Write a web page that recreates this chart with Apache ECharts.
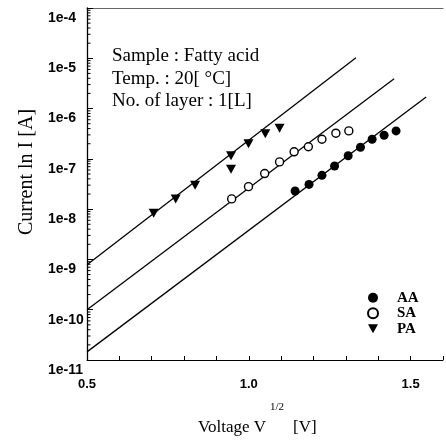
<!DOCTYPE html>
<html><head><meta charset="utf-8">
<script src="https://cdn.jsdelivr.net/npm/echarts@6/dist/echarts.min.js"></script>
<style>html,body{margin:0;padding:0;background:#fff}#c{width:446px;height:445px}</style>
</head><body><div id="c"></div>
<script>
// Data (x = V^1/2 [V], y = current [A])
const xAA = [1.143, 1.186, 1.226, 1.265, 1.307, 1.345, 1.381, 1.418, 1.455];
const yAA = [2.3e-8, 3.1e-8, 4.7e-8, 7.2e-8, 1.15e-7, 1.7e-7, 2.45e-7, 2.95e-7, 3.6e-7];
const xSA = [0.947, 0.999, 1.049, 1.095, 1.140, 1.184, 1.226, 1.269, 1.309];
const ySA = [1.6e-8, 2.8e-8, 5.1e-8, 8.7e-8, 1.38e-7, 1.74e-7, 2.45e-7, 3.24e-7, 3.6e-7];
const xPA = [0.706, 0.774, 0.834, 0.945, 0.945, 0.999, 1.051, 1.095];
const yPA = [8.3e-9, 1.6e-8, 3.0e-8, 1.15e-7, 6.2e-8, 2.0e-7, 3.16e-7, 4.07e-7];
// fitted straight lines (end points)
const fitAAx = [0.5, 1.548], fitAAy = [1.45e-11, 1.7e-6];
const fitSAx = [0.5, 1.449], fitSAy = [1.0e-10, 3.9e-6];
const fitPAx = [0.5, 1.331], fitPAy = [7.8e-10, 1.02e-5];
const seriesNames = ['AA', 'SA', 'PA'];
const xLabels = [0.5, 1.0, 1.5];
const yMin = 1e-11, yMax = 1e-4;
// minor log ticks positions (2..9 x each decade)
const minorMultipliers = [2, 3, 4, 5, 6, 7, 8, 9];
const decades = [-11, -10, -9, -8, -7, -6, -5];

const pairs = (xs, ys) => xs.map((x, i) => [x, ys[i]]);
const minorTicks = [];
decades.forEach(d => minorMultipliers.forEach(k => minorTicks.push([0.5, k * Math.pow(10, d)])));

const chart = echarts.init(document.getElementById('c'), null, {renderer: 'canvas'});
const serif = '"Liberation Serif", "Times New Roman", serif';
const sans = '"Liberation Sans", Arial, sans-serif';
const lineStyle = {color: '#000', width: 1.3};

function txt(x, y, text, size, align, extra) {
  return Object.assign({
    type: 'text', x: x, y: y, silent: true,
    style: {text: text, font: size + 'px ' + serif, fill: '#000',
      align: align, textAlign: align, verticalAlign: 'middle', textVerticalAlign: 'middle'}
  }, extra || {});
}

chart.setOption({
  animation: false,
  backgroundColor: '#fff',
  grid: {left: 87, right: -4, top: 8, bottom: 85},
  xAxis: [{
    type: 'value', min: 0.5, max: 1.6, interval: 0.1,
    axisLine: {onZero: false, lineStyle: {color: '#000', width: 1}},
    axisTick: {inside: true, length: 4, lineStyle: {color: '#000'}},
    splitLine: {show: false},
    axisLabel: {
      margin: 18, fontSize: 13, lineHeight: 13, fontWeight: 'bold', fontFamily: sans, color: '#000',
      formatter: v => xLabels.some(l => Math.abs(l - v) < 1e-6) ? v.toFixed(1) : ''
    }
  }, {
    type: 'value', position: 'top', min: 0.5, max: 1.6,
    axisLine: {onZero: false, lineStyle: {color: '#666', width: 1.2}},
    axisTick: {show: false}, axisLabel: {show: false}, splitLine: {show: false}
  }],
  yAxis: {
    type: 'log', logBase: 10, min: yMin, max: yMax, splitNumber: 7,
    axisLine: {onZero: false, lineStyle: {color: '#000', width: 1.3}},
    axisTick: {inside: true, length: 6, lineStyle: {color: '#000'}},
    splitLine: {show: false},
    axisLabel: {
      align: 'left', margin: 39, verticalAlign: 'top', lineHeight: 14, padding: [3, 0, 0, 0],
      fontSize: 14, fontWeight: 'bold', fontFamily: sans, color: '#000',
      formatter: v => '1e' + Math.round(Math.log10(v))
    }
  },
  legend: {
    orient: 'vertical', left: 362, top: 285, itemWidth: 10, itemHeight: 10, itemGap: 0,
    selectedMode: false, data: seriesNames,
    textStyle: {fontFamily: serif, fontWeight: 'bold', fontSize: 15, lineHeight: 15.5,
      color: '#000', padding: [0, 0, 0, 14]}
  },
  series: [
    {name: 'fitAA', type: 'line', data: pairs(fitAAx, fitAAy), symbol: 'none', lineStyle: lineStyle, silent: true, z: 1},
    {name: 'fitSA', type: 'line', data: pairs(fitSAx, fitSAy), symbol: 'none', lineStyle: lineStyle, silent: true, z: 1},
    {name: 'fitPA', type: 'line', data: pairs(fitPAx, fitPAy), symbol: 'none', lineStyle: lineStyle, silent: true, z: 1},
    {name: 'AA', type: 'scatter', data: pairs(xAA, yAA), symbol: 'circle', symbolSize: 9,
      itemStyle: {color: '#000', opacity: 1}, z: 3},
    {name: 'SA', type: 'scatter', data: pairs(xSA, ySA), symbol: 'circle', symbolSize: 8,
      itemStyle: {color: '#fff', borderColor: '#000', borderWidth: 1.4, opacity: 1}, z: 3},
    {name: 'PA', type: 'scatter', data: pairs(xPA, yPA), symbol: 'path://M0,0L10,0L5,9Z', symbolSize: [10, 9],
      itemStyle: {color: '#000', opacity: 1}, z: 3},
    {name: 'minorTicks', type: 'custom', silent: true, clip: false, data: minorTicks,
      renderItem: (params, api) => {
        const p = api.coord([api.value(0), api.value(1)]);
        return {type: 'line', shape: {x1: p[0], y1: p[1], x2: p[0] + 3.5, y2: p[1]},
          style: {stroke: '#000', lineWidth: 1}};
      }, z: 2}
  ],
  graphic: [
    txt(112, 56.5, 'Sample : Fatty acid', 19, 'left'),
    txt(112, 79, 'Temp. : 20[ °C]', 19, 'left'),
    txt(112, 101.5, 'No. of layer : 1[L]', 19, 'left'),
    txt(198, 428, 'Voltage V', 17, 'left'),
    txt(270, 407, '1/2', 11, 'left'),
    txt(293, 428, '[V]', 17, 'left'),
    txt(27, 172, 'Current ln I [A]', 20, 'center', {rotation: Math.PI / 2})
  ]
});
</script></body></html>
